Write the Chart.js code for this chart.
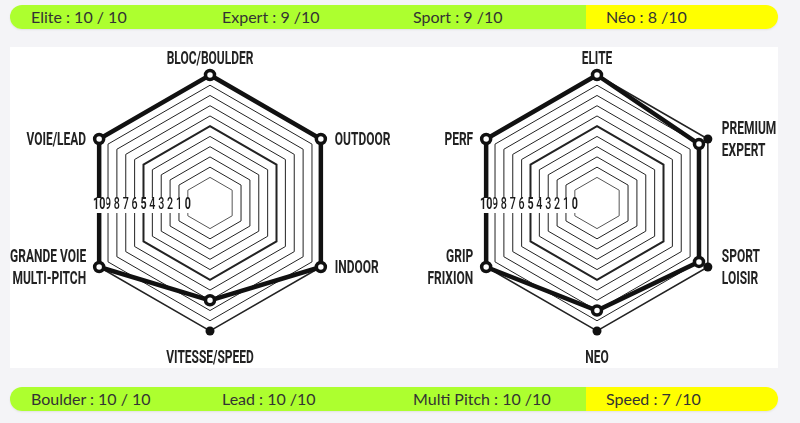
<!DOCTYPE html>
<html>
<head>
<meta charset="utf-8">
<script src="https://cdn.jsdelivr.net/npm/chart.js@4.4.1/dist/chart.umd.min.js"></script>
<style>
  html, body { margin: 0; padding: 0; }
  body { width: 800px; height: 423px; background: #f4f4f7; position: relative; overflow: hidden; font-family: Lato, "Open Sans", sans-serif; }
  .bar { position: absolute; left: 10px; width: 768px; height: 24px; border-radius: 12px;
         background: linear-gradient(to right, #adff2f 0, #adff2f 576px, #ffff00 576px, #ffff00 100%);
         box-shadow: 0 1px 2px rgba(0,0,0,0.08); }
  .bar span { position: absolute; top: 0; line-height: 24px; font-size: 16px; color: #333; white-space: nowrap; }
  .panel { position: absolute; left: 10px; top: 47px; width: 768px; height: 321px; background: #fff; }
  canvas { position: absolute; top: 47px; }
</style>
</head>
<body>
<div class="bar" id="topBar" style="top:5px"></div>
<div class="panel"></div>
<canvas id="usageChart" width="390" height="321" style="left:10px"></canvas>
<canvas id="levelChart" width="378" height="321" style="left:400px"></canvas>
<div class="bar" id="bottomBar" style="top:387px"></div>
<script>
// scores shown in the two strips
const topScores = ['Elite : 10 / 10', 'Expert : 9 /10', 'Sport : 9 /10', 'Néo : 8 /10'];
const bottomScores = ['Boulder : 10 / 10', 'Lead : 10 /10', 'Multi Pitch : 10 /10', 'Speed : 7 /10'];
const stripTextX = [21, 212, 403, 596];

// left radar: terrain
const usageAxes = ['BLOC/BOULDER', 'OUTDOOR', 'INDOOR', 'VITESSE/SPEED', ['GRANDE VOIE', 'MULTI-PITCH'], 'VOIE/LEAD'];
const usageScores = [10, 10, 10, 7, 10, 10];

// right radar: level
const levelAxes = ['ELITE', ['PREMIUM', 'EXPERT'], ['SPORT', 'LOISIR'], 'NEO', ['GRIP', 'FRIXION'], 'PERF'];
const levelScores = [10, 9, 9, 8, 10, 10];

const fullMarks = [10, 10, 10, 10, 10, 10];
const scaleMin = -2.5; // the "0" ring is not at the centre
const scaleMax = 10;

function fillStrip(id, items) {
  const bar = document.getElementById(id);
  items.forEach((txt, i) => {
    const s = document.createElement('span');
    s.textContent = txt;
    s.style.left = stripTextX[i] + 'px';
    bar.appendChild(s);
  });
}
fillStrip('topBar', topScores);
fillStrip('bottomBar', bottomScores);

const FONT = 'Roboto, "Noto Sans", sans-serif';
const SQUEEZE = 0.63; // fake condensed face

function squeezed(ctx, text, x, y, align) {
  ctx.save();
  ctx.translate(x, y);
  ctx.scale(SQUEEZE, 1);
  ctx.textAlign = align;
  ctx.fillText(text, 0, 0);
  ctx.restore();
}

const hexLabels = {
  id: 'hexLabels',
  afterDatasetsDraw(chart) {
    const ctx = chart.ctx;
    const r = chart.scales.r;
    const cx = r.xCenter, cy = r.yCenter;
    ctx.save();
    // tick numbers along the left flat side
    r.ticks.forEach(t => {
      if (t.value < 0) return;
      const x = cx - r.getDistanceFromCenterForValue(t.value) * Math.cos(Math.PI / 6);
      const txt = String(t.value);
      ctx.font = (t.value % 5 === 0 ? 'bold ' : '500 ') + '17px ' + FONT;
      const w = ctx.measureText(txt).width * SQUEEZE;
      ctx.fillStyle = '#fff';
      ctx.fillRect(x - w / 2 - 1, cy - 5, w + 2, 15);
      ctx.fillStyle = '#1a1a1a';
      ctx.textBaseline = 'middle';
      squeezed(ctx, txt, x, cy + 2, 'center');
    });
    // axis names
    ctx.font = 'bold 19px ' + FONT;
    ctx.fillStyle = '#222';
    chart.data.labels.forEach((label, i) => {
      const lines = [].concat(label);
      const p = r.getPointPosition(i, r.drawingArea);
      const dx = p.x - cx;
      if (Math.abs(dx) < 1) {
        const above = p.y < cy;
        ctx.textBaseline = above ? 'alphabetic' : 'top';
        squeezed(ctx, lines[0], p.x, above ? p.y - 11 : p.y + 18, 'center');
      } else {
        ctx.textBaseline = 'middle';
        const lh = 22;
        const y0 = p.y + 1 - (lines.length - 1) * lh / 2;
        lines.forEach((s, k) => squeezed(ctx, s, dx > 0 ? p.x + 14 : p.x - 13, y0 + k * lh, dx > 0 ? 'left' : 'right'));
      }
    });
    ctx.restore();
  }
};

function makeRadar(id, axes, scores, padding) {
  new Chart(document.getElementById(id), {
    type: 'radar',
    data: {
      labels: axes,
      datasets: [{
        data: scores,
        borderColor: '#111',
        backgroundColor: 'rgba(0,0,0,0)',
        borderWidth: 4.5,
        borderJoinStyle: 'miter',
        pointRadius: 4.5,
        pointBorderWidth: 3.5,
        pointBackgroundColor: '#fff',
        pointBorderColor: '#111',
        fill: false,
        tension: 0
      }, {
        data: fullMarks,
        showLine: false,
        fill: false,
        backgroundColor: 'rgba(0,0,0,0)',
        pointRadius: ctx => scores[ctx.dataIndex] < scaleMax ? 4.5 : 0,
        pointBackgroundColor: '#111',
        pointBorderWidth: 0
      }]
    },
    options: {
      responsive: false,
      animation: false,
      layout: { padding: padding },
      plugins: { legend: { display: false }, tooltip: { enabled: false } },
      scales: {
        r: {
          min: scaleMin,
          max: scaleMax,
          ticks: { display: false, stepSize: 1 },
          pointLabels: { display: false },
          angleLines: { display: false },
          grid: {
            color: c => c.tick.value < 0 ? 'rgba(0,0,0,0)' : (c.tick.value === 0 ? '#555' : '#222'),
            lineWidth: c => c.tick.value === 5 ? 2 : (c.tick.value === 10 ? 1.5 : 1)
          }
        }
      }
    },
    plugins: [hexLabels]
  });
}

makeRadar('usageChart', usageAxes, usageScores, { left: 70, right: 60, top: 28, bottom: 37 });
makeRadar('levelChart', levelAxes, levelScores, { left: 67, right: 51, top: 28, bottom: 37 });
</script>
</body>
</html>
